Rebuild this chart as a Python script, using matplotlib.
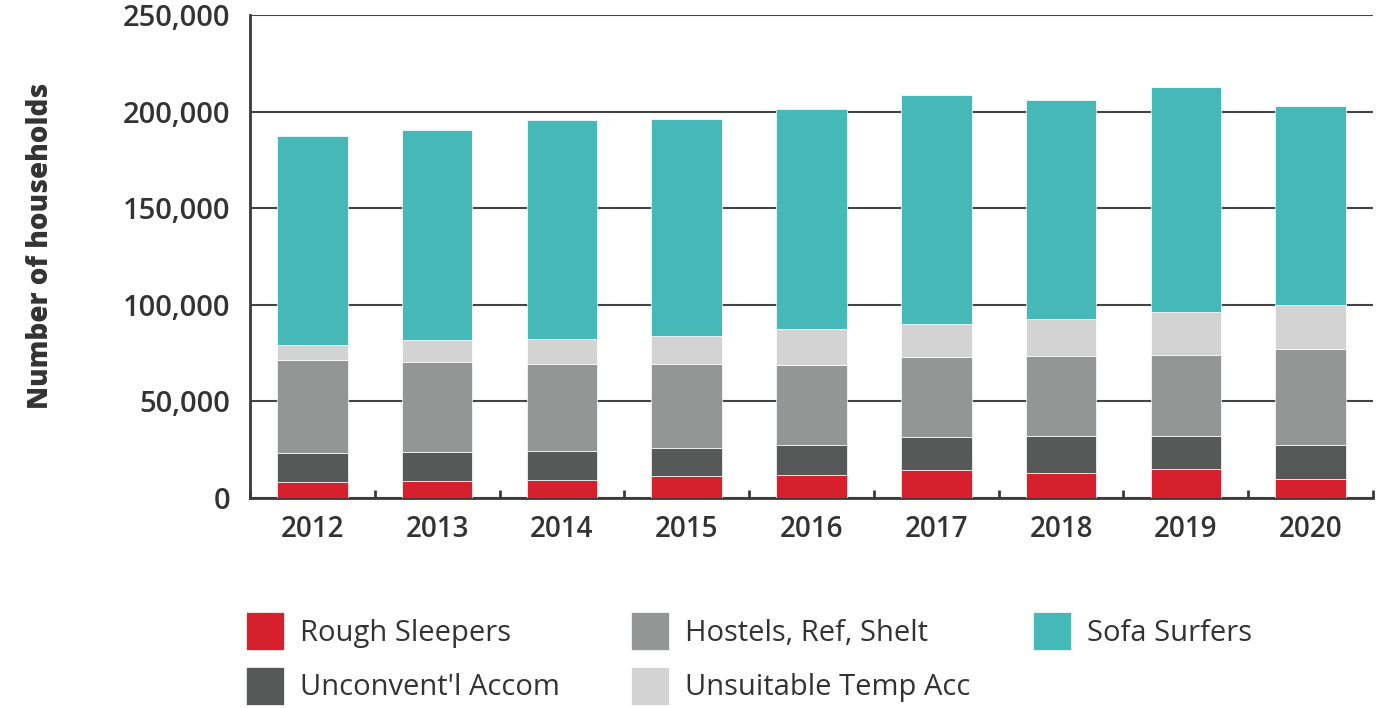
import matplotlib.pyplot as plt
from matplotlib.ticker import FuncFormatter, FixedLocator
import numpy as np

years = ['2012', '2013', '2014', '2015', '2016', '2017', '2018', '2019', '2020']

rough_sleepers = [8400, 8800, 9500, 11400, 11900, 14700, 12900, 15000, 9800]
unconventional = [14900, 15000, 14800, 14500, 15700, 17000, 19200, 17100, 17600]
hostels = [48100, 46600, 45100, 43500, 41200, 41300, 41400, 41900, 49700]
unsuitable_temp = [7800, 11400, 12900, 14500, 18700, 17100, 19200, 22300, 22800]
sofa_surfers = [108200, 108700, 113350, 112300, 113800, 118500, 113300, 116400, 103000]

series = [
    ('Rough Sleepers', rough_sleepers, '#d7202e'),
    ("Unconvent'l Accom", unconventional, '#575958'),
    ('Hostels, Ref, Shelt', hostels, '#949695'),
    ('Unsuitable Temp Acc', unsuitable_temp, '#d2d3d2'),
    ('Sofa Surfers', sofa_surfers, '#46b8b8'),
]

text_col = '#333333'
plt.rcParams['font.family'] = ['Open Sans', 'DejaVu Sans']

fig = plt.figure(figsize=(13.86, 7.08), dpi=100)
ax = fig.add_axes([250 / 1386, 1 - 498 / 708, 1123 / 1386, 483 / 708])

x = np.arange(len(years))
bottom = np.zeros(len(years))
handles = {}
for name, vals, col in series:
    bars = ax.bar(x, vals, width=0.565, bottom=bottom, color=col,
                  edgecolor='white', linewidth=0.5, zorder=3, label=name)
    handles[name] = bars
    bottom += np.array(vals)

ax.set_xlim(-0.5, len(years) - 0.5)
ax.set_ylim(0, 250000)
ax.set_yticks(range(0, 250001, 50000))
ax.yaxis.set_major_formatter(FuncFormatter(lambda v, p: f'{int(v):,}'))
ax.grid(axis='y', color='#444444', linewidth=1.5, zorder=0)

ax.set_xticks(x)
ax.set_xticklabels(years)
ax.xaxis.set_minor_locator(FixedLocator(np.arange(-0.5, len(years), 1.0)))
ax.tick_params(axis='x', which='major', length=0, pad=12, labelsize=20,
               labelcolor=text_col)
ax.tick_params(axis='x', which='minor', direction='in', length=6, width=2,
               color='#3a3a3a')
ax.tick_params(axis='y', length=0, pad=14, labelsize=21, labelcolor=text_col)
for lab in ax.get_xticklabels() + ax.get_yticklabels():
    lab.set_fontweight('semibold')

for s in ['top', 'right']:
    ax.spines[s].set_visible(False)
for s in ['left', 'bottom']:
    ax.spines[s].set_color('#3a3a3a')
    ax.spines[s].set_linewidth(2)

fig.text(41 / 1386, 1 - 246 / 708, 'Number of households', rotation=90,
         ha='center', va='center', fontsize=20, fontweight='extra bold',
         color=text_col)

# legend laid out as three separate columns
columns = [
    (["Rough Sleepers", "Unconvent'l Accom"], 246),
    (['Hostels, Ref, Shelt', 'Unsuitable Temp Acc'], 631),
    (['Sofa Surfers'], 1033),
]
for names, xpix in columns:
    fig.legend([handles[n] for n in names], names, loc='upper left',
               bbox_to_anchor=(xpix / 1386, 1 - 612 / 708),
               frameon=False, handlelength=1.3,
               handleheight=1.625, handletextpad=0.55, labelspacing=0.57,
               borderpad=0, borderaxespad=0, labelcolor=text_col,
               prop={'size': 21, 'weight': 'medium'})

fig.savefig('out.png', dpi=100)
